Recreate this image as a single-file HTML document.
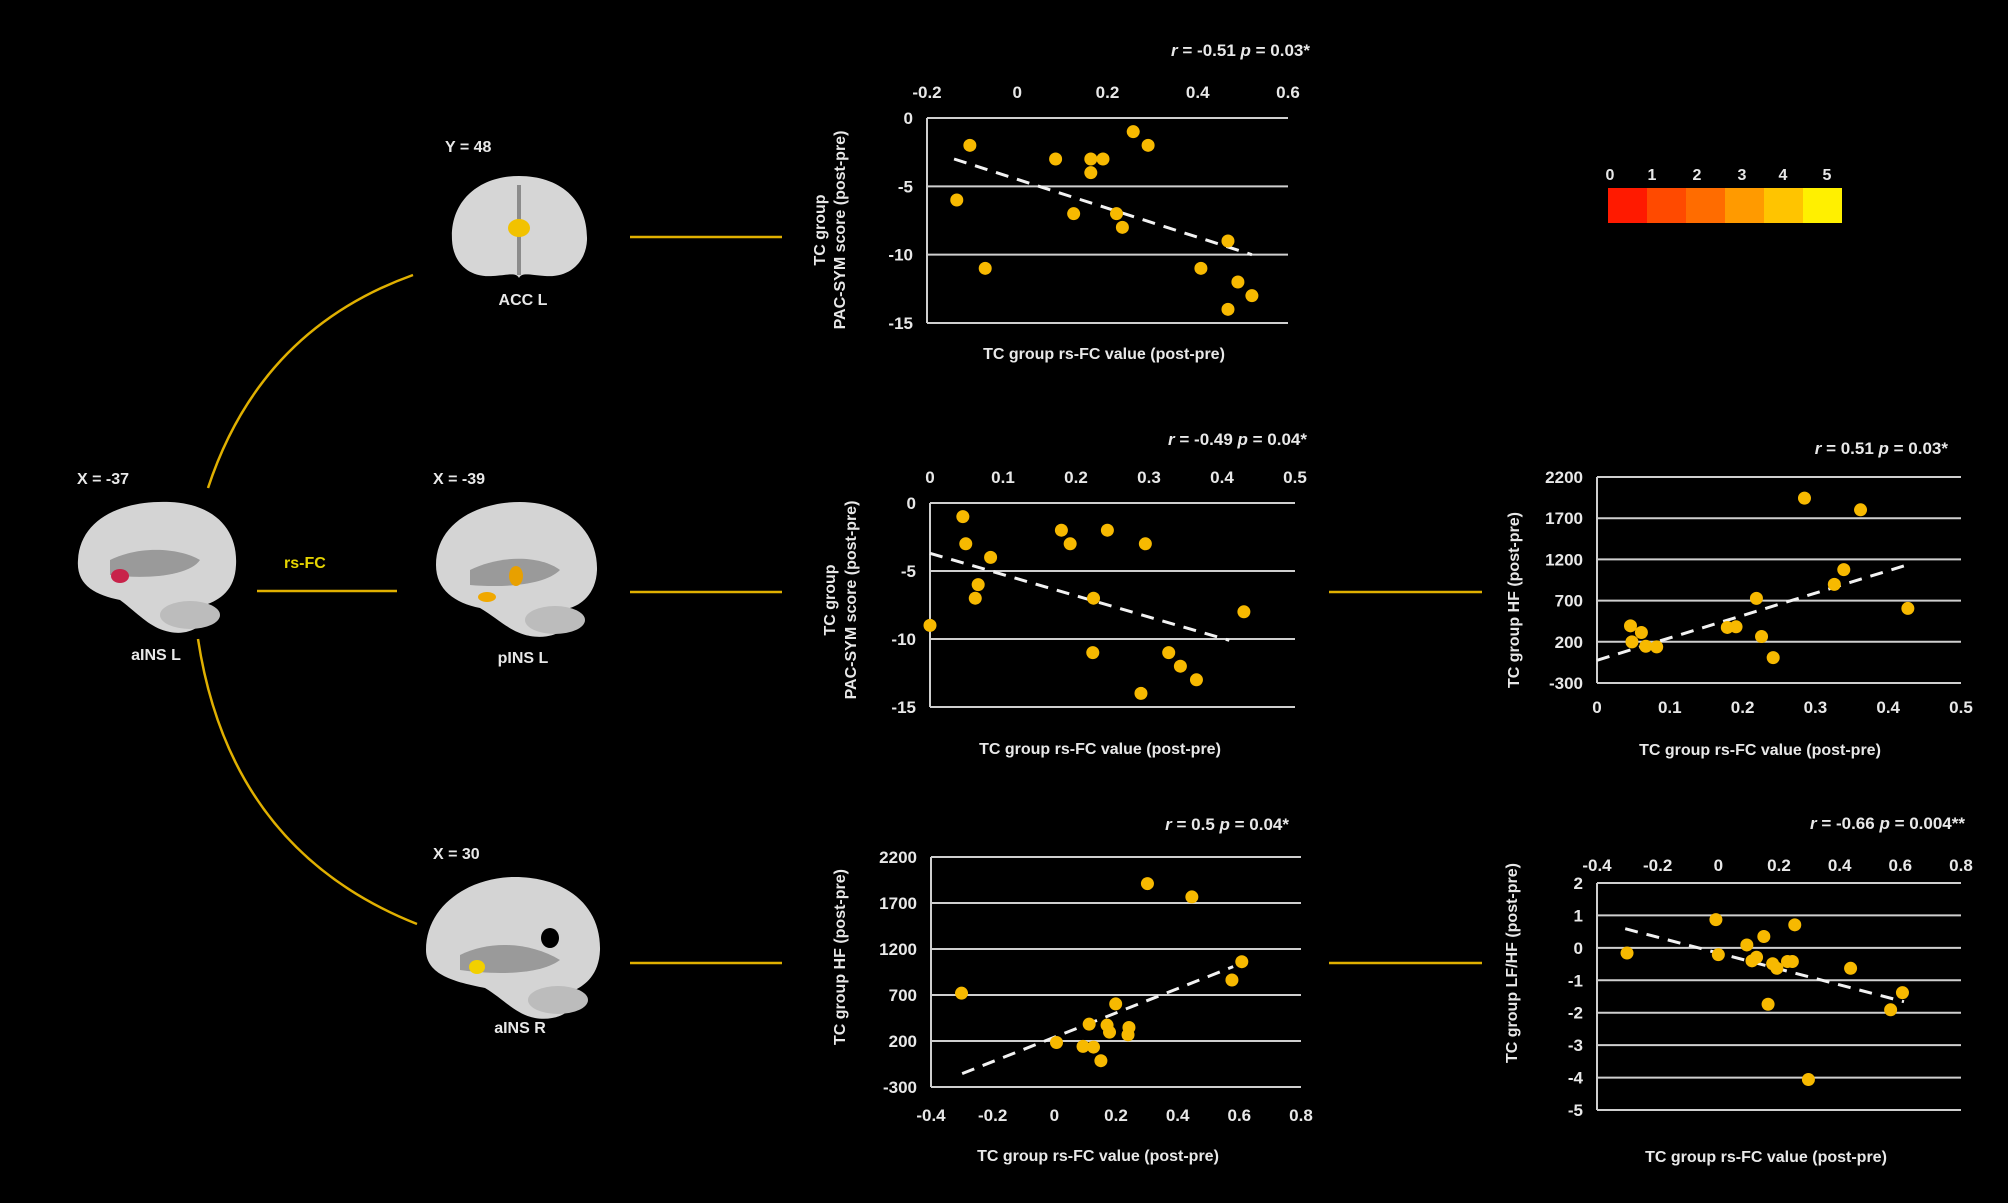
<!DOCTYPE html>
<html><head><meta charset="utf-8">
<style>
html,body{margin:0;padding:0;background:#000;}
svg{display:block;}
text{font-family:"Liberation Sans",sans-serif;fill:#e8e8e8;font-weight:bold;}
</style></head>
<body>
<svg id="fig" width="2008" height="1203" viewBox="0 0 2008 1203" xmlns="http://www.w3.org/2000/svg">
<rect x="0" y="0" width="2008" height="1203" fill="#000"/>

<!-- colorbar -->
<g>
<rect x="1608" y="188" width="40" height="35" fill="#ff1a00"/>
<rect x="1647" y="188" width="40" height="35" fill="#ff4a00"/>
<rect x="1686" y="188" width="40" height="35" fill="#ff6c00"/>
<rect x="1725" y="188" width="40" height="35" fill="#ff9a00"/>
<rect x="1764" y="188" width="40" height="35" fill="#ffc400"/>
<rect x="1803" y="188" width="39" height="35" fill="#fff000"/>
<g font-size="16" text-anchor="middle">
<text x="1610" y="180">0</text><text x="1652" y="180">1</text><text x="1697" y="180">2</text><text x="1742" y="180">3</text><text x="1783" y="180">4</text><text x="1827" y="180">5</text>
</g></g>

<!-- brains -->
<g>
<text x="77" y="484" font-size="16">X = -37</text>
<path d="M78,560 C80,520 120,500 170,502 C215,504 238,530 236,565 C235,590 220,600 205,605 C210,625 190,636 170,632 C150,628 140,615 120,600 C95,595 76,585 78,560 Z" fill="#d4d4d4"/>
<path d="M110,560 C140,545 180,548 200,560 C190,575 150,580 110,575 Z" fill="#9a9a9a"/>
<ellipse cx="120" cy="576" rx="9" ry="7" fill="#c8234a"/>
<ellipse cx="190" cy="615" rx="30" ry="14" fill="#bcbcbc"/>
<text x="156" y="660" font-size="16" text-anchor="middle">aINS L</text>
</g>
<g>
<text x="445" y="152" font-size="16">Y = 48</text>
<path d="M452,240 C450,200 480,176 519,176 C560,176 588,200 587,240 C586,262 570,278 545,276 C530,275 522,272 519,278 C516,272 508,275 493,276 C468,278 453,262 452,240 Z" fill="#d6d6d6"/>
<rect x="517" y="185" width="4" height="90" fill="#8c8c8c"/>
<ellipse cx="519" cy="228" rx="11" ry="9" fill="#f2c200"/>
<text x="523" y="305" font-size="16" text-anchor="middle">ACC L</text>
</g>
<g>
<text x="433" y="484" font-size="16">X = -39</text>
<path d="M436,565 C436,525 475,502 520,502 C565,502 598,530 597,570 C596,595 580,605 570,608 C575,630 552,640 530,636 C510,632 500,620 480,608 C455,603 436,590 436,565 Z" fill="#d4d4d4"/>
<path d="M470,570 C500,555 540,555 560,570 C545,585 505,588 470,585 Z" fill="#9a9a9a"/>
<ellipse cx="487" cy="597" rx="9" ry="5" fill="#f0a800"/>
<ellipse cx="516" cy="576" rx="7" ry="10" fill="#e8a000"/>
<ellipse cx="555" cy="620" rx="30" ry="14" fill="#bcbcbc"/>
<text x="523" y="663" font-size="16" text-anchor="middle">pINS L</text>
</g>
<g>
<text x="433" y="859" font-size="16">X = 30</text>
<path d="M426,950 C426,905 470,877 515,877 C565,877 601,905 600,950 C599,975 585,985 575,990 C580,1010 558,1022 535,1018 C515,1014 505,1000 485,988 C455,982 426,975 426,950 Z" fill="#d4d4d4"/>
<ellipse cx="550" cy="938" rx="9" ry="10" fill="#000"/>
<path d="M460,955 C490,940 530,942 560,960 C540,975 495,975 460,970 Z" fill="#9a9a9a"/>
<ellipse cx="477" cy="967" rx="8" ry="7" fill="#f2d000"/>
<ellipse cx="558" cy="1000" rx="30" ry="14" fill="#bcbcbc"/>
<text x="520" y="1033" font-size="16" text-anchor="middle">aINS R</text>
</g>

<!-- connectors -->
<g stroke="#e0b000" stroke-width="2.5" fill="none">
<path d="M208,488 Q260,330 413,275"/>
<path d="M198,639 Q230,850 417,924"/>
<line x1="257" y1="591" x2="397" y2="591"/>
<line x1="630" y1="237" x2="782" y2="237"/>
<line x1="630" y1="592" x2="782" y2="592"/>
<line x1="630" y1="963" x2="782" y2="963"/>
<line x1="1329" y1="592" x2="1482" y2="592"/>
<line x1="1329" y1="963" x2="1482" y2="963"/>
</g>
<text x="284" y="568" font-size="16" style="fill:#e6d400">rs-FC</text>

<g id="charts"></g>
</svg>

<script>
// Chart 1: ACC L vs PAC-SYM
const c1X = [-0.134,-0.105,-0.071,0.085,0.125,0.163,0.163,0.19,0.22,0.233,0.257,0.29,0.407,0.467,0.467,0.489,0.52];
const c1Y = [-6,-2,-11,-3,-7,-3,-4,-3,-7,-8,-1,-2,-11,-9,-14,-12,-13];
const c1XTicks = [-0.2,0,0.2,0.4,0.6];
const c1YTicks = [0,-5,-10,-15];
const c1Trend = [[-0.14,-3],[0.52,-10]];
// Chart 2: pINS L vs PAC-SYM
const c2X = [0,0.045,0.049,0.062,0.066,0.083,0.18,0.192,0.223,0.224,0.243,0.289,0.295,0.327,0.343,0.365,0.43];
const c2Y = [-9,-1,-3,-7,-6,-4,-2,-3,-11,-7,-2,-14,-3,-11,-12,-13,-8];
const c2XTicks = [0,0.1,0.2,0.3,0.4,0.5];
const c2YTicks = [0,-5,-10,-15];
const c2Trend = [[0,-3.7],[0.41,-10.1]];
// Chart 3: aINS R vs HF
const c3X = [-0.301,0.007,0.093,0.113,0.127,0.151,0.171,0.179,0.199,0.239,0.242,0.302,0.446,0.576,0.608];
const c3Y = [720,184,141,383,134,-14,372,296,603,267,347,1911,1766,863,1062];
const c3XTicks = [-0.4,-0.2,0,0.2,0.4,0.6,0.8];
const c3YTicks = [2200,1700,1200,700,200,-300];
const c3Trend = [[-0.299,-155],[0.58,1008]];
// Chart 4: pINS L vs HF
const c4X = [0.046,0.048,0.061,0.067,0.082,0.179,0.191,0.219,0.226,0.242,0.285,0.326,0.339,0.362,0.427];
const c4Y = [394,199,313,146,138,374,382,727,264,8,1944,897,1076,1802,605];
const c4XTicks = [0,0.1,0.2,0.3,0.4,0.5];
const c4YTicks = [2200,1700,1200,700,200,-300];
const c4Trend = [[0,-24],[0.426,1133]];
// Chart 5: aINS R vs LF/HF
const c5X = [-0.301,-0.008,0,0.094,0.111,0.126,0.15,0.164,0.179,0.193,0.228,0.244,0.252,0.297,0.436,0.568,0.607];
const c5Y = [-0.16,0.87,-0.21,0.09,-0.4,-0.29,0.35,-1.74,-0.49,-0.63,-0.42,-0.42,0.71,-4.06,-0.63,-1.91,-1.38];
const c5XTicks = [-0.4,-0.2,0,0.2,0.4,0.6,0.8];
const c5YTicks = [2,1,0,-1,-2,-3,-4,-5];
const c5Trend = [[-0.307,0.59],[0.612,-1.66]];

const NS = 'http://www.w3.org/2000/svg';
const root = document.getElementById('charts');
function mk(tag, parent){ const e=document.createElementNS(NS,tag); parent.appendChild(e); return e; }
function fmt(v){ return (Math.round(v*10)/10).toString(); }

function chart(cfg){
  const g = mk('g', root);
  
  
  const xs = v => cfg.L + (v-cfg.xmin)/(cfg.xmax-cfg.xmin)*(cfg.R-cfg.L);
  const ys = v => cfg.T + (cfg.ymax-v)/(cfg.ymax-cfg.ymin)*(cfg.B-cfg.T);
  cfg.yTicks.forEach(t=>{
    const ln = mk('line', g);
    
    
    ln.setAttribute('x1', cfg.L); ln.setAttribute('x2', cfg.R);
    ln.setAttribute('y1', ys(t)); ln.setAttribute('y2', ys(t));
    ln.setAttribute('stroke', '#cfcfcf'); ln.setAttribute('stroke-width', '2');
    const tx = mk('text', g);
    
    
    tx.setAttribute('x', cfg.L-14); tx.setAttribute('y', ys(t)+6);
    tx.setAttribute('text-anchor','end'); tx.setAttribute('font-size','17');
    tx.textContent = String(t).replace('-', '-');
  });
  const ax = mk('line', g);
  
  
  ax.setAttribute('x1', cfg.L); ax.setAttribute('x2', cfg.L);
  ax.setAttribute('y1', cfg.T); ax.setAttribute('y2', cfg.B);
  ax.setAttribute('stroke', '#cfcfcf'); ax.setAttribute('stroke-width', '2');
  cfg.xTicks.forEach(t=>{
    const tx = mk('text', g);
    
    
    tx.setAttribute('x', xs(t)); tx.setAttribute('y', cfg.xLabelY);
    tx.setAttribute('text-anchor','middle'); tx.setAttribute('font-size','17');
    tx.textContent = fmt(t);
  });
  const tr = mk('line', g);
  
  
  tr.setAttribute('x1', xs(cfg.trend[0][0])); tr.setAttribute('y1', ys(cfg.trend[0][1]));
  tr.setAttribute('x2', xs(cfg.trend[1][0])); tr.setAttribute('y2', ys(cfg.trend[1][1]));
  tr.setAttribute('stroke', '#f2f2f2'); tr.setAttribute('stroke-width', '3');
  tr.setAttribute('stroke-dasharray', '13 9');
  cfg.x.forEach((v,i)=>{
    const c = mk('circle', g);
    
    
    c.setAttribute('cx', xs(v)); c.setAttribute('cy', ys(cfg.y[i]));
    c.setAttribute('r', '6.5'); c.setAttribute('fill', '#f7b900');
  });
  const ti = mk('text', g);
  
  
  ti.setAttribute('x', cfg.titleX); ti.setAttribute('y', cfg.titleY);
  ti.setAttribute('text-anchor','end'); ti.setAttribute('font-size','17');
  ti.innerHTML = cfg.title;
  const xt = mk('text', g);
  
  
  xt.setAttribute('x', cfg.xtX); xt.setAttribute('y', cfg.xtY);
  xt.setAttribute('text-anchor','middle'); xt.setAttribute('font-size','16');
  xt.textContent = 'TC group rs-FC value (post-pre)';
  cfg.ytLines.forEach((s,k)=>{
    const yt = mk('text', g);
    
    
    const px = cfg.ytX[k];
    yt.setAttribute('x', px); yt.setAttribute('y', cfg.ytY);
    yt.setAttribute('text-anchor','middle'); yt.setAttribute('font-size','16');
    yt.setAttribute('transform', 'rotate(-90 '+px+' '+cfg.ytY+')');
    yt.textContent = s;
  });
}

const it = s => '<tspan font-style="italic">'+s+'</tspan>';
chart({name:'chart-acc-pacsym', L:927,R:1288,T:118,B:323, xmin:-0.2,xmax:0.6,ymin:-15,ymax:0,
  x:c1X,y:c1Y,xTicks:c1XTicks,yTicks:c1YTicks,trend:c1Trend,xLabelY:98,
  title:it('r')+' = -0.51 '+it('p')+' = 0.03*', titleX:1310,titleY:56,
  xtX:1104,xtY:359, ytLines:['TC group','PAC-SYM score (post-pre)'], ytX:[825,845], ytY:230});
chart({name:'chart-pins-pacsym', L:930,R:1295,T:503,B:707, xmin:0,xmax:0.5,ymin:-15,ymax:0,
  x:c2X,y:c2Y,xTicks:c2XTicks,yTicks:c2YTicks,trend:c2Trend,xLabelY:483,
  title:it('r')+' = -0.49 '+it('p')+' = 0.04*', titleX:1307,titleY:445,
  xtX:1100,xtY:754, ytLines:['TC group','PAC-SYM score (post-pre)'], ytX:[835,856], ytY:600});
chart({name:'chart-ains-r-hf', L:931,R:1301,T:857,B:1087, xmin:-0.4,xmax:0.8,ymin:-300,ymax:2200,
  x:c3X,y:c3Y,xTicks:c3XTicks,yTicks:c3YTicks,trend:c3Trend,xLabelY:1121,
  title:it('r')+' = 0.5 '+it('p')+' = 0.04*', titleX:1289,titleY:830,
  xtX:1098,xtY:1161, ytLines:['TC group HF (post-pre)'], ytX:[845], ytY:957});
chart({name:'chart-pins-hf', L:1597,R:1961,T:477,B:683, xmin:0,xmax:0.5,ymin:-300,ymax:2200,
  x:c4X,y:c4Y,xTicks:c4XTicks,yTicks:c4YTicks,trend:c4Trend,xLabelY:713,
  title:it('r')+' = 0.51 '+it('p')+' = 0.03*', titleX:1948,titleY:454,
  xtX:1760,xtY:755, ytLines:['TC group HF (post-pre)'], ytX:[1519], ytY:600});
chart({name:'chart-ains-r-lfhf', L:1597,R:1961,T:883,B:1110, xmin:-0.4,xmax:0.8,ymin:-5,ymax:2,
  x:c5X,y:c5Y,xTicks:c5XTicks,yTicks:c5YTicks,trend:c5Trend,xLabelY:871,
  title:it('r')+' = -0.66 '+it('p')+' = 0.004**', titleX:1965,titleY:829,
  xtX:1766,xtY:1162, ytLines:['TC group LF/HF (post-pre)'], ytX:[1517], ytY:963});
</script>
</body></html>
